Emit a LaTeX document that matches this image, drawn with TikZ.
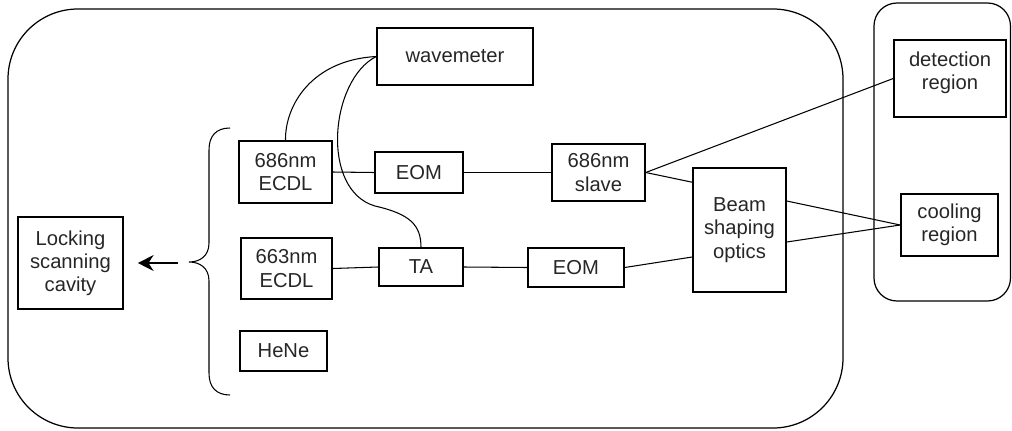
\documentclass[tikz,border=0pt]{standalone}
\usepackage{fontspec}
\setmainfont{Liberation Sans}
\usetikzlibrary{arrows.meta}

\begin{document}
\begin{tikzpicture}[
	x=0.02cm, y=-0.02cm,
	every node/.style={ font=\fontsize{11.5}{13.2}\selectfont, text=black!85 },
	box/.style={ draw, line width=0.9pt, align=center, inner sep=0pt },
	link/.style={ line width=0.6pt },
	region/.style={ draw, line width=0.7pt }
]

\useasboundingbox (0,0) rectangle (1012,430);

% the two enclosures
\draw[region, rounded corners=1.4cm] (8,9) rectangle (843,428);
\draw[region, rounded corners=0.46cm] (874,3) rectangle (1010.5,301);

\node[box, minimum width=3.12cm, minimum height=1.14cm] at (455,56.5) (wm) {wavemeter};
\node[box, minimum width=1.86cm, minimum height=1.24cm] at (285.5,172) (ecdlA) {686nm\\ECDL};
\node[box, minimum width=1.76cm, minimum height=0.82cm] at (419,172.5) (eomA) {EOM};
\node[box, minimum width=1.86cm, minimum height=1.14cm] at (598.5,172.5) (slave) {686nm\\slave};
\node[box, minimum width=1.86cm, minimum height=2.48cm] at (739.5,230) (beam) {Beam\\shaping\\optics};
\node[box, minimum width=2.24cm, minimum height=1.54cm, text depth=0.32cm] at (950,78.5) (det) {detection\\region};
\node[box, minimum width=1.94cm, minimum height=1.24cm] at (949.5,225) (cool) {cooling\\region};
\node[box, minimum width=2.1cm, minimum height=1.84cm] at (70.5,263) (lock) {Locking\\scanning\\cavity};
\node[box, minimum width=1.82cm, minimum height=1.22cm] at (286.5,268.5) (ecdlB) {663nm\\ECDL};
\node[box, minimum width=1.68cm, minimum height=0.76cm] at (421,267) (ta) {TA};
\node[box, minimum width=1.92cm, minimum height=0.78cm] at (576,267.5) (eomB) {EOM};
\node[box, minimum width=1.74cm, minimum height=0.8cm] at (283.5,351) (hene) {HeNe};

\foreach \a/\b in {ecdlA/eomA, eomA/slave, slave/det, ecdlB/ta, ta/eomB} \draw[link] (\a.east) -- (\b.west);
\draw[link] (slave.east) -- ([yshift=-0.3cm]beam.north west);
\draw[link] (eomB.east) -- ([yshift=-0.54cm]beam.west);
\foreach \s in {0.58cm,-0.24cm} \draw[link] ([yshift=\s]beam.east) -- (cool.west);

% fibres to the wavemeter
\draw[link] (wm.west) .. controls (312,60) and (285,105) .. (ecdlA.north);
\draw[link] (wm.west) .. controls (330,80) and (320,190) .. (375,206) .. controls (410,214) and (421,225) .. (ta.north);

% brace and arrow to the cavity
\draw[link] (230,128) .. controls (216,128) and (209,136) .. (209,150) -- (209,243) .. controls (209,256) and (200,262) .. (189,262) .. controls (200,262) and (209,268) .. (209,281) -- (209,373) .. controls (209,387) and (216,395) .. (230,395);
\coordinate (tip) at (178,263);
\draw[line width=0.9pt, -{Stealth[length=9pt, width=9pt]}, shorten >=0.28cm] (tip) -- (lock.east);

\end{tikzpicture}
\end{document}
